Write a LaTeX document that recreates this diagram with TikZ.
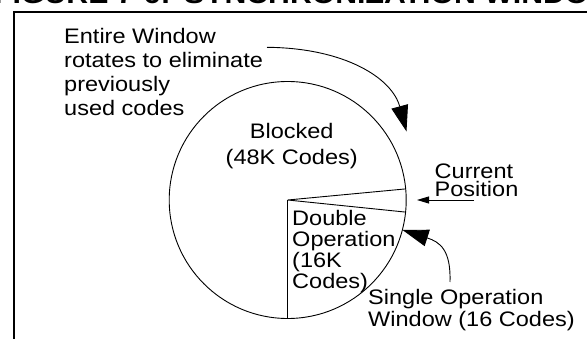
\documentclass[tikz,border=0pt]{standalone}
\usepackage{fontspec}
\setmainfont{Liberation Sans}[FakeStretch=1.12]
\usetikzlibrary{arrows.meta}
\tikzset{
  lbl/.style={inner sep=0pt, align=left},
  thinline/.style={line width=0.9pt},
  bigtip/.style={-{Triangle[length=26pt,width=17pt]}, line width=0.9pt},
  smalltip/.style={-{Triangle[length=12pt,width=7pt]}, line width=0.9pt},
  titlefnt/.style={inner sep=0pt, anchor=base west, font=\fontsize{27}{30}\selectfont\bfseries},
}
\begin{document}
\begin{tikzpicture}[x=1pt,y=-1pt]
\useasboundingbox (0,0) rectangle (587,339);
\clip (0,0) rectangle (587,339);
% title (cut off at top)
\node[titlefnt] (t1) at (-6,4) {FIGURE 7-6:};
\node[titlefnt] (t2) at (184,4) {SYNCHRONIZATION WINDOW};
% frame
\draw[line width=2.2pt] (13.8,345) -- (13.8,12.2) -- (600,12.2);
% circle and wedges
\coordinate (C) at (287.7,200);
\node[draw, circle, thinline, minimum size=237pt, inner sep=0pt] (circ) at (C) {};
\coordinate (pu) at (405.7,188.9);
\coordinate (pl) at (405.6,212.1);
\coordinate (pb) at (287.7,318.5);
\draw[thinline] (pu) -- (C) -- (pl);
\draw[thinline] (C) -- (pb);
% labels (base anchor = baseline of last line)
\node[lbl, anchor=base west, font=\fontsize{21}{24}\selectfont] (entire) at (64,115.3)
  {Entire Window\\rotates to eliminate\\previously\\used codes};
\node[lbl, align=center, anchor=base, font=\fontsize{21}{26}\selectfont] (blocked) at (291.7,164.3)
  {Blocked\\(48K Codes)};
\node[lbl, anchor=base west, font=\fontsize{21}{20.7}\selectfont] (double) at (292,288.1)
  {Double\\Operation\\(16K\\Codes)};
\node[lbl, anchor=base west, font=\fontsize{21}{18}\selectfont] (current) at (434.5,197)
  {Current\\Position};
\node[lbl, anchor=base west, font=\fontsize{21}{21.7}\selectfont] (single) at (368,326.7)
  {Single Operation\\Window (16 Codes)};
% arrows
\coordinate (a1s) at (267,47.3);
\coordinate (a1e) at (406.5,131.5);
\draw[bigtip] (a1s) .. controls (345,48) and (392,78) .. (a1e);
\coordinate (a2s) at (474,200);
\coordinate (a2e) at (417,200);
\draw[smalltip] (a2s) -- (a2e);
\coordinate (a3s) at (450,282);
\coordinate (a3e) at (402.5,230);
\draw[bigtip] (a3s) .. controls (451,250) and (440,242) .. (a3e);
\end{tikzpicture}
\end{document}
